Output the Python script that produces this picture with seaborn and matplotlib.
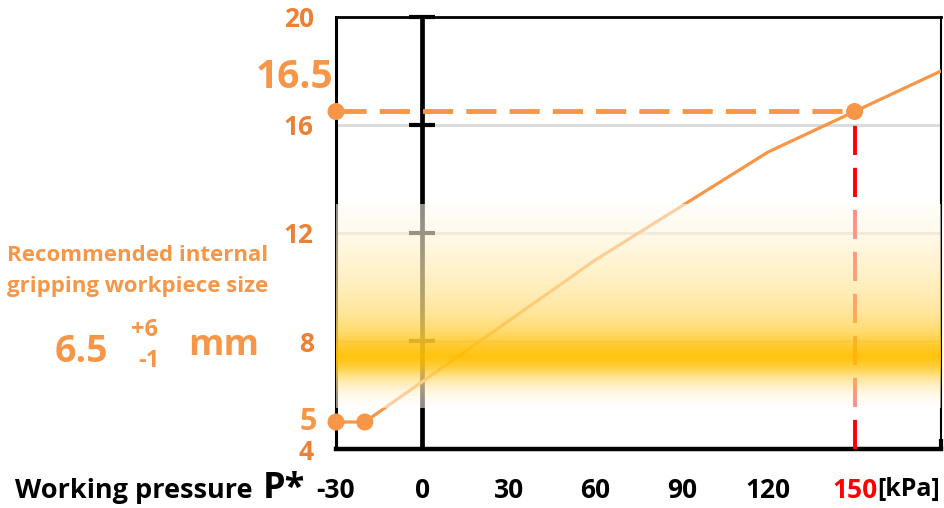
import matplotlib.pyplot as plt
import matplotlib.transforms as mtransforms
import numpy as np
import seaborn as sns

# curve
pressure = [-30, -20, 60, 120, 150, 180]
size_mm = [5, 5, 11, 15, 16.5, 18]
# highlighted points
point_pressure = [-30, -20, 150, -30]
point_size = [5, 5, 16.5, 16.5]
target_pressure = 150
target_size = 16.5
min_size = 5

x_ticks = [-30, 0, 30, 60, 90, 120, 150]
x_tick_labels = ["-30", "0", "30", "60", "90", "120", "150"]
x_tick_marks = [30, 60, 90, 120, 180]
y_ticks = [4, 8, 12, 16, 20]
y_tick_labels = ["4", "8", "12", "16", "20"]
grid_levels = [8, 12, 16]
zero_marks = [8, 12, 16, 20]

# recommended size band (gradient stops)
band_y = [5.5, 6.0, 6.5, 7.0, 7.4, 7.8, 8.3, 9.0, 10.0, 11.0, 12.0, 13.05]
band_t = [0.0, 0.15, 0.45, 0.85, 1.0, 0.9, 0.7, 0.52, 0.37, 0.26, 0.13, 0.03]

ORANGE = "#F79646"
DARK_ORANGE = "#EE7F33"
GOLD = np.array([1.0, 0.75, 0.0])

sns.set_theme(style="white")
plt.rcParams["font.family"] = ["Open Sans", "DejaVu Sans"]
plt.rcParams["font.weight"] = "bold"

fig = plt.figure(figsize=(9.45, 5.08), dpi=100)
ax = fig.add_axes([336 / 945, 59 / 508, 605 / 945, 432 / 508])

for lvl in grid_levels:
    ax.axhline(lvl, color="#D9D9D9", lw=2, zorder=1)

# vertical zero line with its little crossing ticks
ax.axvline(0, color="black", lw=3.4, zorder=3)
ax.plot([0] * len(zero_marks), zero_marks, ls="none", marker="_",
        markersize=19, mew=3, color="black", zorder=3, clip_on=False)

sns.lineplot(x=pressure, y=size_mm, color=ORANGE, lw=2.3, ax=ax, zorder=3)

# guide lines to the 150 kPa point
ax.plot([pressure[0], target_pressure], [target_size, target_size],
        color=ORANGE, lw=3.5, dashes=(6.2, 2.7), zorder=3)
ax.plot([target_pressure, target_pressure], [4, target_size],
        color="red", lw=2.8, dashes=(7.5, 3.3), zorder=3)

# gradient band drawn on top, semi transparent
yy = np.linspace(band_y[0], band_y[-1], 400)
t = np.interp(yy, band_y, band_t)
img = np.zeros((len(yy), 1, 4))
img[:, 0, :3] = (1 - t)[:, None] * 1.0 + t[:, None] * GOLD
img[:, 0, 3] = 0.55 + 0.4 * t
ax.imshow(img, extent=[-30, 180, band_y[0], band_y[-1]], origin="lower",
          aspect="auto", interpolation="bilinear", zorder=4)

sns.scatterplot(x=point_pressure, y=point_size, s=150, color=ORANGE,
                edgecolor="none", ax=ax, zorder=6, clip_on=False)

ax.set_xlim(-30, 180)
ax.set_ylim(4, 20)

ax.set_xticks(x_ticks, labels=x_tick_labels)
ax.set_xticks(x_tick_marks, minor=True)
ax.tick_params(axis="x", which="major", length=0, pad=20.5, labelsize=19,
               labelcolor="black")
ax.tick_params(axis="x", which="minor", bottom=True, direction="in",
               length=7, width=3, color="black")
ax.get_xticklabels()[-1].set_color("red")

ax.set_yticks(y_ticks, labels=y_tick_labels)
ax.tick_params(axis="y", length=0, pad=16, labelsize=19, labelcolor=DARK_ORANGE)

for side, lw in [("bottom", 3.2), ("left", 2.2), ("top", 2.0), ("right", 1.5)]:
    ax.spines[side].set_color("black")
    ax.spines[side].set_linewidth(lw)
    ax.spines[side].set_zorder(2.5)

ax.set_xlabel("")
ax.set_ylabel("")

# unit after 150
ax.annotate("[kPa]", xy=(target_pressure, 0),
            xycoords=mtransforms.blended_transform_factory(ax.transData, ax.transAxes),
            xytext=(16, -20.5), textcoords="offset points", ha="left", va="top",
            fontsize=18, fontweight="bold", color="black")

# value labels next to the axis
ax.text(-31, 17.75, "16.5", ha="right", va="center", fontsize=28,
        fontweight="bold", color=ORANGE)
ax.annotate(str(min_size), xy=(-30, min_size), xytext=(-14, 0),
            textcoords="offset points", ha="right", va="center",
            fontsize=22, fontweight="bold", color=ORANGE)

# axis title on the left of the ticks
fig.text(253 / 945, 10 / 508, "Working pressure", ha="right", va="baseline",
         fontsize=19.5, fontweight="bold", color="black")
fig.text(305 / 945, 10 / 508, "P*", ha="right", va="baseline",
         fontsize=26, fontweight="bold", color="black")

# recommended size note
fig.text(138 / 945, (508 - 261) / 508, "Recommended internal", ha="center",
         va="baseline", fontsize=16, fontweight="bold", color=ORANGE)
fig.text(138 / 945, (508 - 292) / 508, "gripping workpiece size", ha="center",
         va="baseline", fontsize=16, fontweight="bold", color=ORANGE)
fig.text(55 / 945, (508 - 362) / 508, "6.5", ha="left", va="baseline",
         fontsize=27, fontweight="bold", color=ORANGE)
fig.text(144 / 945, (508 - 336) / 508, "+6", ha="center", va="baseline",
         fontsize=17, fontweight="bold", color=ORANGE)
fig.text(149 / 945, (508 - 367) / 508, "-1", ha="center", va="baseline",
         fontsize=17, fontweight="bold", color=ORANGE)
fig.text(188 / 945, (508 - 355) / 508, "mm", ha="left", va="baseline",
         fontsize=26, fontweight="bold", color=ORANGE)

fig.savefig("out.png", dpi=100)
